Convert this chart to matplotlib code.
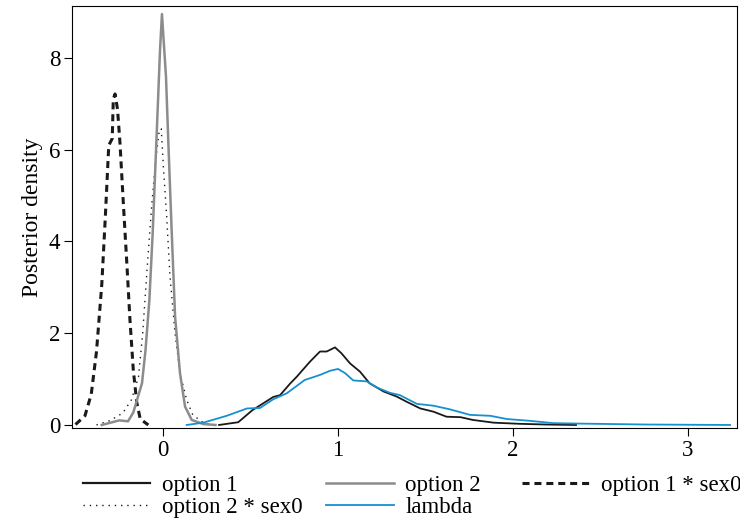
import matplotlib
matplotlib.use("Agg")
import matplotlib.pyplot as plt
from matplotlib.lines import Line2D

plt.rcParams["font.family"] = ["Liberation Serif", "DejaVu Serif"]

# option 1 (solid black)
opt1_x = [0.32, 0.43, 0.51, 0.63, 0.669, 0.726, 0.764, 0.84, 0.897, 0.935, 0.983, 1.02,
          1.069, 1.126, 1.18, 1.26, 1.335, 1.39, 1.47, 1.545, 1.62, 1.70, 1.77, 1.89,
          2.04, 2.19, 2.36]
opt1_y = [0.0, 0.06, 0.32, 0.61, 0.65, 0.9, 1.05, 1.38, 1.6, 1.6, 1.69, 1.56,
          1.34, 1.16, 0.91, 0.73, 0.62, 0.51, 0.36, 0.29, 0.18, 0.17, 0.11, 0.05,
          0.025, 0.01, 0.0]

# option 2 (solid grey)
opt2_x = [-0.35, -0.30, -0.25, -0.20, -0.17, -0.12, -0.10, -0.078, -0.059, -0.036, -0.017,
          -0.006, 0.017, 0.03, 0.05, 0.069, 0.097, 0.126, 0.164, 0.23, 0.30]
opt2_y = [0.0, 0.05, 0.1, 0.08, 0.27, 0.91, 1.63, 2.72, 4.18, 6.35, 8.17,
          8.95, 7.59, 6.2, 4.18, 2.36, 1.13, 0.40, 0.11, 0.02, 0.0]

# option 1 * sex0 (dashed)
opt1s_x = [-0.50, -0.446, -0.41, -0.38, -0.35, -0.33, -0.31, -0.29, -0.284, -0.274, -0.26,
           -0.246, -0.227, -0.207, -0.189, -0.17, -0.15, -0.13, -0.084]
opt1s_y = [0.01, 0.2, 0.67, 1.6, 3.05, 4.5, 6.09, 6.24, 7.1, 7.21, 6.88,
           6.15, 4.85, 3.54, 2.3, 1.21, 0.49, 0.13, 0.0]

# option 2 * sex0 (dotted)
opt2s_x = [-0.38, -0.30, -0.23, -0.18, -0.14, -0.116, -0.09, -0.065, -0.042, -0.021, -0.01,
           0.002, 0.021, 0.04, 0.069, 0.097, 0.135, 0.17, 0.23, 0.29]
opt2s_y = [0.0, 0.1, 0.26, 0.55, 1.05, 2.0, 3.45, 4.76, 5.77, 6.43, 6.45,
           5.63, 4.54, 3.23, 1.99, 1.13, 0.55, 0.22, 0.05, 0.0]

# lambda (blue)
lam_x = [0.135, 0.23, 0.364, 0.48, 0.554, 0.63, 0.707, 0.81, 0.897, 0.954, 1.0, 1.04,
         1.087, 1.164, 1.22, 1.297, 1.354, 1.45, 1.545, 1.64, 1.754, 1.87, 1.964, 2.097,
         2.23, 2.38, 2.57, 2.76, 3.24]
lam_y = [0.0, 0.05, 0.2, 0.36, 0.37, 0.56, 0.69, 0.98, 1.09, 1.18, 1.22, 1.13,
         0.97, 0.95, 0.82, 0.70, 0.65, 0.46, 0.42, 0.34, 0.22, 0.20, 0.13, 0.09,
         0.04, 0.03, 0.02, 0.01, 0.0]

black = "#1a1a1a"
grey = "#8c8c8c"
blue = "#1591cf"
dashed = (0, (2.3, 1.6))
dotted = (0, (1, 3.5))

fig = plt.figure(figsize=(7.4, 5.29), dpi=100)
ax = fig.add_axes([0.0973, 0.191, 0.8987, 0.798])

ax.plot(opt1s_x, opt1s_y, color=black, lw=2.2, ls=dashed)
ax.plot(opt2s_x, opt2s_y, color=black, lw=1.0, ls=dotted)
ax.plot(opt2_x, opt2_y, color=grey, lw=1.8)
ax.plot(opt1_x, opt1_y, color=black, lw=1.3)
ax.plot(lam_x, lam_y, color=blue, lw=1.3)

ax.set_xlim(-0.52, 3.28)
ax.set_ylim(-0.065, 9.13)
ax.set_xticks([0, 1, 2, 3])
ax.set_yticks([0, 2, 4, 6, 8])
font = 16.5
ax.tick_params(labelsize=font, length=5.5, width=0.8, direction="out", pad=3)
ax.set_ylabel("Posterior density", fontsize=17, labelpad=4)
for s in ax.spines.values():
    s.set_linewidth(0.8)

# legend: three columns placed by hand, rows as in the reference
cols = [
    [(Line2D([], [], color=black, lw=1.6), "option 1"),
     (Line2D([], [], color=black, lw=1.0, ls=dotted), "option 2 * sex0")],
    [(Line2D([], [], color=grey, lw=1.8), "option 2"),
     (Line2D([], [], color=blue, lw=1.3), "lambda")],
    [(Line2D([], [], color=black, lw=2.2, ls=dashed), "option 1 * sex0")],
]
xpos = [0.112, 0.441, 0.705]
for x0, col in zip(xpos, cols):
    fig.legend([h for h, _ in col], [t for _, t in col], loc="upper left",
               bbox_to_anchor=(x0, 0.102), frameon=False, fontsize=font,
               handlelength=2.95, handletextpad=0.5, labelspacing=0.05,
               borderpad=0, borderaxespad=0)

fig.savefig("out.png", dpi=100)
